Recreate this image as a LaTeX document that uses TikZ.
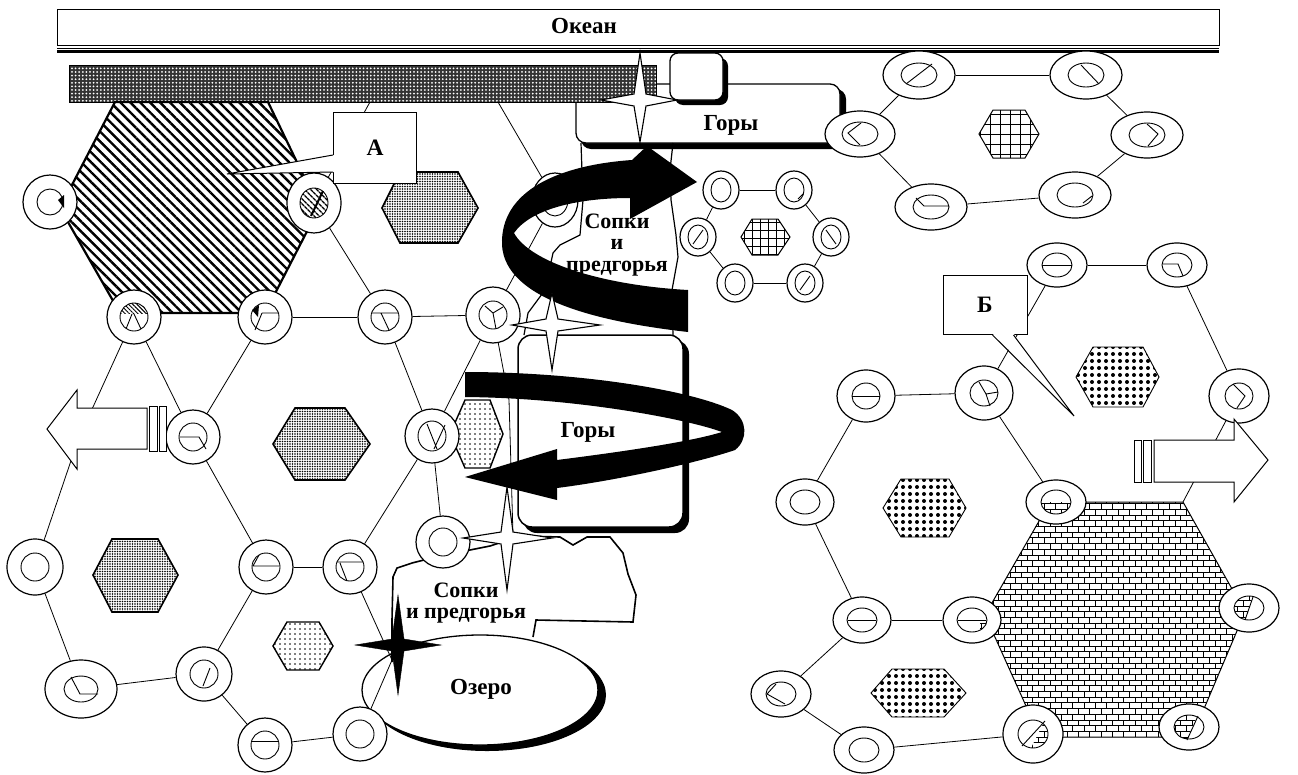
\documentclass[tikz,border=0pt]{standalone}
\usepackage{fontspec}
\setmainfont{Liberation Serif}
\usetikzlibrary{shapes.geometric,patterns,patterns.meta}

\tikzset{
  ring/.style={ellipse,draw,line width=1.2pt,fill=white,inner sep=0pt},
  innr/.style={line width=0.9pt},
  link/.style={line width=0.8pt},
  lbl/.style={font=\fontsize{23}{24}\selectfont\bfseries,inner sep=0pt,align=center},
  tight/.style={font=\fontsize{22}{21.5}\selectfont\bfseries},
  callbox/.style={draw,fill=white,line width=1pt,font=\fontsize{23.5}{24}\selectfont\bfseries},
  wstar/.style={draw,fill=white,line width=1.1pt},
  bstar/.style={fill=black},
  stipple/.style={draw,line width=1.6pt,pattern={Dots[distance=2.5pt,radius=0.85pt]}},
  lightdots/.style={draw,line width=1.4pt,pattern={Dots[distance=5pt,radius=0.8pt]}},
  bigdots/.style={draw,line width=0.9pt,pattern={Dots[distance=7pt,radius=2pt]}},
  gridhex/.style={draw,line width=1pt,pattern={Hatch[distance=8pt,line width=0.7pt]}},
  hollowarrow/.style={draw,fill=white,line width=1pt}
}

% settlement: name, centre, outer width, outer height, inner radii
\newcommand{\ringnode}[6]{%
  \node[ring,minimum width=#3pt,minimum height=#4pt] (#1) at (#2) {};
  \draw[innr] (#1.center) ellipse [x radius=#5,y radius=#6];}
% four-pointed star: centre, up, down, left, right, style
\newcommand{\sparkle}[6]{%
  \draw[#6,shift={(#1)}] (0,-#2) -- (6,-6) -- (#5,0) -- (6,6) -- (0,#3)
    -- (-6,6) -- (-#4,0) -- (-6,-6) -- cycle;}

\begin{document}
\begin{tikzpicture}[x=1pt,y=-1pt]
\useasboundingbox (0,0) rectangle (1298,774);

% ocean
\draw[line width=1pt] (57,9) rectangle (1219,45);
\draw[line width=0.7pt] (57,48) -- (1219,48);
\draw[line width=2.2pt] (57,51.5) -- (1219,51.5);
\node[lbl,anchor=base] (ocean) at (584,33) {Океан};

% upper mountains
\fill[rounded corners=10pt] (581,89) rectangle (846,149);
\draw[fill=white,line width=1.3pt,rounded corners=10pt] (576,84) rectangle (840,143);
\fill[rounded corners=8pt] (675,58) rectangle (728,105);
\draw[fill=white,line width=1.3pt,rounded corners=8pt] (670,53) rectangle (723,100);
\node[lbl,anchor=base] (goryA) at (731,130) {Горы};

% coast band
\fill[black!80] (69,65) rectangle (656,102);
\fill[pattern={Dots[distance=3.6pt,radius=1pt]},pattern color=white] (69,65) rectangle (656,102);
\draw[line width=1pt] (69,65) rectangle (656,102);

% lake and lower mountains
\fill (487,695) ellipse [x radius=119,y radius=56];
\draw[fill=white,line width=1.3pt] (480,690) ellipse [x radius=118,y radius=55];
\node[lbl,anchor=base] (lake) at (481,694) {Озеро};
\fill[rounded corners=14pt] (523,340) rectangle (689,533);
\draw[fill=white,line width=1.5pt,rounded corners=14pt] (518,335) rectangle (683,527);
\node[lbl,anchor=base] (goryB) at (588,437) {Горы};
\draw[line width=1.6pt] (392,662) -- (392,620) -- (393,577) -- (397,568) -- (412,563)
  -- (440,556) -- (470,550) -- (490,546) -- (520,536) -- (560,537) -- (573,545)
  -- (587,537) -- (610,537) -- (623,553) -- (628,574) -- (636,595) -- (633,622)
  -- (536,620) -- (533,637);
\node[lbl,tight] (sopkiB) at (466,603) {Сопки\\и предгорья};

% foothills strip
\draw[line width=1.2pt] (581,143) -- (583,200) -- (580,235) -- (560,245) -- (553,253)
  -- (545,290) -- (528,313) -- (524,335);
\draw[line width=1.2pt] (673,143) -- (670,170) -- (671,200) -- (676,235) -- (678,257)
  -- (672,290) -- (673,336);
\node[lbl,tight] (sopkiA) at (617,245) {Сопки\\и\\предгорья};

% territories
\draw[line width=2.2pt,pattern={Lines[angle=-45,distance=7pt,line width=2.4pt]}]
  (60,208) -- (115,102) -- (268,102) -- (319,208) -- (265,313) -- (120,313) -- cycle;
\path[stipple] (382,208) -- (400,172) -- (458,172) -- (478,208) -- (458,243) -- (400,243) -- cycle;
\path[stipple] (273,444) -- (295,408) -- (345,408) -- (370,444) -- (345,480) -- (295,480) -- cycle;
\path[stipple] (93,575) -- (112,539) -- (158,539) -- (178,575) -- (158,612) -- (112,612) -- cycle;
\path[lightdots] (273,646) -- (287,622) -- (319,622) -- (333,646) -- (319,670) -- (287,670) -- cycle;
\path[lightdots] (450,434) -- (465,400) -- (490,400) -- (503,434) -- (490,468) -- (465,468) -- cycle;
\path[gridhex] (741,237) -- (752,219) -- (778,219) -- (790,237) -- (778,255) -- (752,255) -- cycle;
\path[gridhex,pattern={Hatch[distance=10pt,line width=0.8pt]}]
  (979,134) -- (993,110) -- (1025,110) -- (1039,134) -- (1025,158) -- (993,158) -- cycle;
\path[bigdots] (1076,377) -- (1093,347) -- (1143,347) -- (1159,377) -- (1143,407) -- (1093,407) -- cycle;
\path[bigdots] (883,508) -- (901,479) -- (949,479) -- (966,508) -- (949,537) -- (901,537) -- cycle;
\path[bigdots] (871,693) -- (892,669) -- (944,669) -- (966,693) -- (944,717) -- (892,717) -- cycle;
\draw[line width=1pt,pattern=bricks]
  (985,615) -- (1050,502) -- (1183,502) -- (1245,612) -- (1192,737) -- (1040,737) -- cycle;

% settlements, west
\ringnode{r1}{50,202}{54}{54}{13}{13}
\ringnode{r2}{314,203}{54}{60}{14}{15}
\ringnode{r3}{134,317}{54}{54}{14}{14}
\ringnode{r4}{265,317}{54}{54}{14}{14}
\ringnode{r5}{385,317}{54}{54}{14}{14}
\ringnode{r6}{493,315}{54}{56}{14}{14}
\ringnode{r7}{555,200}{46}{54}{13}{16}
\ringnode{r8}{193,437}{54}{54}{14}{14}
\ringnode{r9}{432,436}{54}{54}{14}{15}
\ringnode{r10}{35,567}{56}{56}{14}{14}
\ringnode{r11}{266,567}{54}{54}{14}{14}
\ringnode{r12}{350,567}{54}{54}{14}{14}
\ringnode{r13}{443,542}{54}{52}{14}{14}
\ringnode{r14}{81,689}{72}{58}{17}{13}
\ringnode{r15}{204,674}{56}{54}{14}{14}
\ringnode{r16}{265,745}{54}{54}{14}{14}
\ringnode{r17}{360,734}{54}{54}{14}{14}
% settlements, small cell
\ringnode{s1}{721,190}{36}{38}{10}{12}
\ringnode{s2}{794,190}{36}{38}{10}{12}
\ringnode{s3}{698,237}{36}{38}{10}{12}
\ringnode{s4}{831,237}{36}{38}{10}{12}
\ringnode{s5}{735,283}{36}{38}{10}{12}
\ringnode{s6}{805,283}{36}{38}{10}{12}
% settlements, north-east
\ringnode{t1}{919,75}{72}{48}{18}{12}
\ringnode{t2}{1086,75}{72}{48}{18}{12}
\ringnode{t3}{860,134}{70}{46}{18}{12}
\ringnode{t4}{1147,135}{72}{46}{18}{12}
\ringnode{t5}{931,207}{72}{46}{18}{12}
\ringnode{t6}{1075,195}{72}{46}{18}{12}
% settlements, south-east
\ringnode{u1}{1057,265}{60}{44}{15}{12}
\ringnode{u2}{1177,265}{60}{44}{15}{12}
\ringnode{u3}{866,396}{58}{52}{14}{13}
\ringnode{u4}{984,393}{58}{54}{14}{13}
\ringnode{u5}{1239,396}{60}{54}{14}{13}
\ringnode{u6}{805,502}{58}{46}{15}{12}
\ringnode{u7}{1056,502}{60}{44}{15}{12}
\ringnode{u8}{862,620}{58}{46}{15}{12}
\ringnode{u9}{972,620}{58}{46}{15}{12}
\ringnode{u10}{1249,608}{60}{48}{15}{12}
\ringnode{u11}{781,694}{60}{46}{15}{12}
\ringnode{u12}{864,750}{60}{46}{15}{12}
\ringnode{u13}{1033,734}{60}{58}{15}{14}
\ringnode{u14}{1189,727}{60}{46}{15}{12}

% marks inside settlements
\fill (58,200) -- (64,195) -- (64,208) -- cycle;
\fill[pattern={Lines[angle=-45,distance=4pt,line width=1.4pt]}] (r2.center) ellipse [x radius=14,y radius=15];
\draw[line width=2pt] (323,191) -- (311,216);
\begin{scope}
  \clip (r3.center) ellipse [x radius=14,y radius=14];
  \fill[pattern={Lines[angle=-45,distance=3pt,line width=1pt]}] (118,300) rectangle (150,313);
\end{scope}
\draw[innr] (132,314) -- (126,329) (134,314) -- (141,329);
\draw[innr] (262,313) -- (279,313) (262,313) -- (255,330);
\fill (252,310) -- (259,305) -- (258,317) -- cycle;
\draw[innr] (372,313) -- (398,313) (381,313) -- (389,330);
\draw[innr] (493,313) -- (485,306) (493,313) -- (503,307) (493,313) -- (496,329);
\draw[innr] (180,437) -- (199,437) -- (206,449);
\draw[innr] (427,424) -- (437,449) (445,425) -- (434,449);
\draw[innr] (253,566) -- (279,566) (253,566) -- (259,555);
\draw[innr] (337,562) -- (363,562) (340,563) -- (347,581);
\draw[innr] (71,677) -- (80,694) -- (98,694);
\draw[innr] (210,668) -- (203,686);
\draw[innr] (251,741) -- (279,741);
\draw[innr] (798,199) -- (803,194);
\draw[innr] (693,244) -- (703,230);
\draw[innr] (826,230) -- (836,244);
\draw[innr] (800,290) -- (810,276);
\draw[innr] (906,84) -- (932,64);
\draw[innr] (1081,65) -- (1099,84);
\draw[innr] (861,123) -- (848,133) -- (860,145);
\draw[innr] (1147,124) -- (1158,134) -- (1148,146);
\draw[innr] (916,198) -- (924,206) -- (949,206);
\draw[innr] (1083,203) -- (1092,196);
\draw[innr] (1042,265) -- (1072,265);
\draw[innr] (1163,264) -- (1178,264) -- (1183,276);
\draw[innr] (852,396) -- (880,396);
\draw[innr] (986,394) -- (979,382) (986,394) -- (998,392) (986,394) -- (990,406);
\draw[innr] (1233,384) -- (1245,396) -- (1237,408);
\draw[innr] (848,620) -- (876,620);
\draw[innr] (958,620) -- (986,620);
\draw[innr] (776,684) -- (767,694) -- (785,704);
\draw[innr] (1045,721) -- (1022,746);
\draw[innr] (1253,597) -- (1245,620);
\draw[innr] (1198,716) -- (1187,740);
\begin{scope}
  \clip (u7.center) ellipse [x radius=15,y radius=12];
  \fill[pattern=bricks] (1040,502) rectangle (1072,515);
\end{scope}
\begin{scope}
  \clip (u9.center) ellipse [x radius=15,y radius=12];
  \fill[pattern=bricks] (980,620) rectangle (988,632);
\end{scope}
\begin{scope}
  \clip (u10.center) ellipse [x radius=15,y radius=12];
  \fill[pattern=bricks] (1233,595) -- (1253,595) -- (1245,620) -- (1233,620) -- cycle;
\end{scope}
\begin{scope}
  \clip (u13.center) ellipse [x radius=15,y radius=14];
  \fill[pattern=bricks] (1045,720) -- (1050,720) -- (1050,750) -- (1030,750) -- cycle;
\end{scope}
\begin{scope}
  \clip (u14.center) ellipse [x radius=15,y radius=12];
  \fill[pattern=bricks] (1172,714) -- (1198,714) -- (1187,740) -- (1172,740) -- cycle;
\end{scope}

% roads
\coordinate (bandW) at (370,102);
\coordinate (bandE) at (498,102);
\coordinate (hidW) at (78,440);
\coordinate (hidS) at (392,660);
\coordinate (footW) at (513,535);
\coordinate (bricktr) at (1183,502);
\draw[link] (bandW) -- (r2);
\draw[link] (bandE) -- (r7);
\draw[link] (r7) -- (r6);
\draw[link] (r2) -- (r5);
\draw[link] (r4) -- (r5);
\draw[link] (r5) -- (r6);
\draw[link] (r3) -- (r8);
\draw[link] (r4) -- (r8);
\draw[link] (r5) -- (r9);
\draw[link] (r6) -- (r9);
\draw[link] (r6) -- (509,400) -- (footW);
\draw[link] (r3) -- (hidW) -- (r10);
\draw[link] (r8) -- (r11);
\draw[link] (r9) -- (r12);
\draw[link] (r9) -- (r13);
\draw[link] (r11) -- (r12);
\draw[link] (r11) -- (r15);
\draw[link] (r12) -- (hidS) -- (r17);
\draw[link] (r10) -- (r14);
\draw[link] (r14) -- (r15);
\draw[link] (r15) -- (r16);
\draw[link] (r16) -- (r17);
\draw[link] (s1) -- (s2);
\draw[link] (s2) -- (s4);
\draw[link] (s4) -- (s6);
\draw[link] (s6) -- (s5);
\draw[link] (s5) -- (s3);
\draw[link] (s3) -- (s1);
\draw[link] (t1) -- (t2);
\draw[link] (t2) -- (t4);
\draw[link] (t4) -- (t6);
\draw[link] (t6) -- (t5);
\draw[link] (t5) -- (t3);
\draw[link] (t3) -- (t1);
\draw[link] (u1) -- (u2);
\draw[link] (u1) -- (u4);
\draw[link] (u2) -- (u5);
\draw[link] (u5) -- (bricktr);
\draw[link] (u3) -- (u4);
\draw[link] (u3) -- (u6);
\draw[link] (u4) -- (u7);
\draw[link] (u6) -- (u8);
\draw[link] (u8) -- (u9);
\draw[link] (u8) -- (u11);
\draw[link] (u11) -- (u12);
\draw[link] (u12) -- (u13);

% callouts
\node[callbox,minimum width=83pt,minimum height=71pt] (boxA) at (375,148) {А};
\coordinate (tipA) at (227,174);
\fill[white] ([yshift=29pt,xshift=1.5pt]boxA.south west) -- (tipA) -- ([yshift=12pt,xshift=1.5pt]boxA.south west) -- cycle;
\draw[line width=1pt] ([yshift=29pt]boxA.south west) -- (tipA) -- ([yshift=12pt]boxA.south west);
\node[callbox,minimum width=84pt,minimum height=59pt] (boxB) at (985,305) {Б};
\coordinate (tipB) at (1074,416);
\fill[white] ([xshift=50pt,yshift=1.5pt]boxB.south west) -- (tipB) -- ([xshift=71pt,yshift=1.5pt]boxB.south west) -- cycle;
\draw[line width=1pt] ([xshift=50pt]boxB.south west) -- (tipB) -- ([xshift=71pt]boxB.south west);

% migration arrows
\draw[hollowarrow] (47,429) -- (77,390) -- (77,408) -- (147,408) -- (147,449) -- (77,449) -- (77,469) -- cycle;
\draw[hollowarrow] (149,406) rectangle (157,451);
\draw[hollowarrow] (159,406) rectangle (166,451);
\draw[hollowarrow] (1268,460) -- (1234,419) -- (1234,440) -- (1154,440) -- (1154,482) -- (1234,482) -- (1234,502) -- cycle;
\draw[hollowarrow] (1134,440) rectangle (1141,482);
\draw[hollowarrow] (1143,440) rectangle (1151,482);

% passes
\sparkle{640,100}{47}{42}{39}{37}{wstar}
\sparkle{507,538}{51}{52}{44}{45}{wstar}

% spirals
\fill (688,332) .. controls (600,322) and (505,300) .. (502,245)
  .. controls (500,190) and (560,165) .. (632,160) -- (647,146) -- (697,182)
  -- (630,219) -- (630,198) .. controls (575,198) and (530,210) .. (514,233)
  .. controls (530,262) and (600,285) .. (688,290) -- cycle;
\fill (465,372) .. controls (580,372) and (690,390) .. (732,410)
  .. controls (748,420) and (748,440) .. (735,450)
  .. controls (700,462) and (620,480) .. (557,488) -- (557,500) -- (465,477)
  -- (557,449) -- (557,460) .. controls (620,452) and (690,442) .. (722,432)
  .. controls (690,420) and (580,398) .. (465,397) -- cycle;

\sparkle{552,325}{32}{45}{40}{48}{wstar}
\sparkle{398,645}{50}{50}{43}{43}{bstar}
\end{tikzpicture}
\end{document}
